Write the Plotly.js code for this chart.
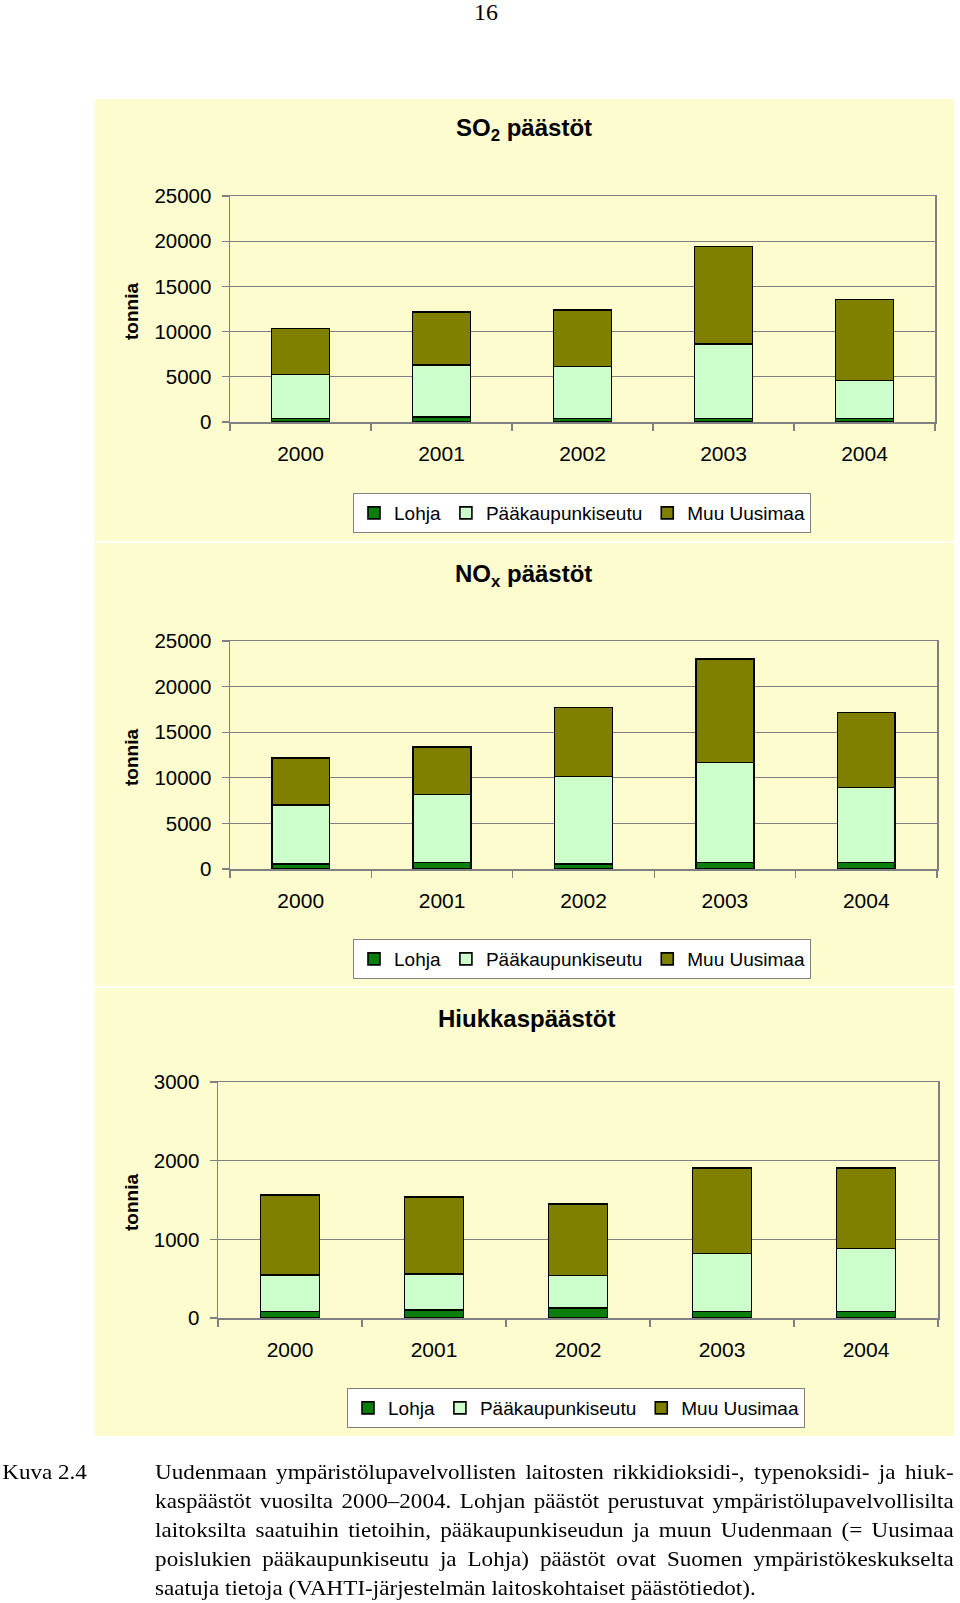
<!DOCTYPE html>
<html>
<head>
<meta charset="utf-8">
<script src="https://cdn.plot.ly/plotly-3.0.1.min.js"></script>
<style>
  body { margin: 0; background: #fff; }
  #chart { position: absolute; left: 0; top: 0; width: 960px; height: 1603px; }
  #caption { position: absolute; left: 0; top: 1458px; width: 870px;
    transform: scaleX(1.1); transform-origin: left top;
    font-family: 'Liberation Serif', 'Times New Roman', serif; font-size: 21px; line-height: 29px; color: #000; }
  #caption .lbl { position: absolute; left: 2px; top: 0; }
  #caption .txt { position: absolute; left: 141px; width: 726px; top: 0; }
  #caption .ln { text-align: justify; text-align-last: justify; }
  #caption .ln.last { text-align-last: left; white-space: nowrap; }
</style>
</head>
<body>
<div id="chart"></div>
<div id="caption">
  <div class="lbl">Kuva 2.4</div>
  <div class="txt">
    <div class="ln">Uudenmaan ympäristölupavelvollisten laitosten rikkidioksidi-, typenoksidi- ja hiuk-</div>
    <div class="ln">kaspäästöt vuosilta 2000–2004. Lohjan päästöt perustuvat ympäristölupavelvollisilta</div>
    <div class="ln">laitoksilta saatuihin tietoihin, pääkaupunkiseudun ja muun Uudenmaan (= Uusimaa</div>
    <div class="ln">poislukien pääkaupunkiseutu ja Lohja) päästöt ovat Suomen ympäristökeskukselta</div>
    <div class="ln last">saatuja tietoja (VAHTI-järjestelmän laitoskohtaiset päästötiedot).</div>
  </div>
</div>
<script>
// vuodet ja sarjat
const years = ['2000', '2001', '2002', '2003', '2004'];
const seriesNames = ['Lohja', 'Pääkaupunkiseutu', 'Muu Uusimaa'];
const seriesColors = ['#0a7d0a', '#ccffcc', '#808000'];

// SO2, tonnia
const so2Lohja = [400, 550, 400, 400, 400];
const so2Paak = [4850, 5750, 5750, 8200, 4200];
const so2Muu = [5100, 5900, 6250, 10800, 8950];

// NOx, tonnia
const noxLohja = [550, 700, 550, 700, 700];
const noxPaak = [6450, 7450, 9600, 11000, 8250];
const noxMuu = [5150, 5200, 7550, 11300, 8200];

// hiukkaset, tonnia
const pmLohja = [85, 100, 130, 85, 85];
const pmPaak = [460, 460, 410, 735, 800];
const pmMuu = [1020, 980, 910, 1090, 1020];

const W = 960, H = 1603;
const px = v => v / W;          // pixel x -> paper
const py = v => 1 - v / H;      // pixel y (from top) -> paper

const font = 'Liberation Sans, Arial, sans-serif';
const grey = '#808080';

const charts = [
  { title: 'SO<sub>2</sub> päästöt', series: [so2Lohja, so2Paak, so2Muu], ymax: 25000, dtick: 5000,
    plotX: [230, 935], plotY: [196, 422], titleY: 130, titleX: 524, legX: 582, legY: 493, box: [99, 541] },
  { title: 'NO<sub>x</sub> päästöt', series: [noxLohja, noxPaak, noxMuu], ymax: 25000, dtick: 5000,
    plotX: [230, 937], plotY: [641, 869], titleY: 575, titleX: 523, legX: 582, legY: 939, box: [543, 986] },
  { title: 'Hiukkaspäästöt', series: [pmLohja, pmPaak, pmMuu], ymax: 3000, dtick: 1000,
    plotX: [218, 938], plotY: [1082, 1318], titleY: 1018, titleX: 526, legX: 576, legY: 1388, box: [988, 1436] }
];

const data = [];
const layout = {
  width: W, height: H,
  margin: { l: 0, r: 0, t: 0, b: 0 },
  paper_bgcolor: '#ffffff',
  plot_bgcolor: '#ffffff',
  barmode: 'stack',
  bargap: 0.59,
  font: { family: font, size: 20, color: '#000' },
  showlegend: true,
  shapes: [],
  annotations: [
    { text: '16', x: px(486), y: py(12), xref: 'paper', yref: 'paper', showarrow: false,
      xanchor: 'center', yanchor: 'middle',
      font: { family: 'Liberation Serif, Times New Roman, serif', size: 24 } }
  ]
};

charts.forEach((c, i) => {
  const n = i === 0 ? '' : String(i + 1);
  const legName = 'legend' + n;

  c.series.forEach((vals, k) => {
    data.push({
      type: 'bar',
      name: seriesNames[k],
      x: years,
      y: vals,
      xaxis: 'x' + n,
      yaxis: 'y' + n,
      legend: legName,
      marker: { color: seriesColors[k], line: { color: '#000', width: 1.6 } },
      hoverinfo: 'skip'
    });
  });

  layout['xaxis' + n] = {
    domain: [px(c.plotX[0]), px(c.plotX[1])],
    anchor: 'y' + n,
    type: 'category',
    showline: true, linecolor: grey, linewidth: 1.5, mirror: true,
    ticks: 'outside', tickson: 'boundaries', ticklen: 7, tickcolor: grey, tickwidth: 1.3,
    ticklabelstandoff: 12,
    showgrid: false,
    tickfont: { size: 21 }
  };
  layout['yaxis' + n] = {
    domain: [py(c.plotY[1]), py(c.plotY[0])],
    anchor: 'x' + n,
    range: [0, c.ymax],
    dtick: c.dtick,
    tickformat: 'd',
    showline: true, linecolor: grey, linewidth: 1.5, mirror: true,
    ticks: 'outside', ticklen: 7, tickcolor: grey, tickwidth: 1.3,
    ticklabelstandoff: 6,
    showgrid: true, gridcolor: grey, gridwidth: 1.3,
    zeroline: false,
    tickfont: { size: 20.5 }
  };
  layout[legName] = {
    orientation: 'h',
    x: px(c.legX), xanchor: 'center',
    y: py(c.legY), yanchor: 'top',
    traceorder: 'normal',
    bgcolor: '#ffffff', bordercolor: grey, borderwidth: 1,
    font: { size: 19 }
  };

  // keltainen tausta
  layout.shapes.push({
    type: 'rect', xref: 'paper', yref: 'paper', layer: 'below',
    x0: px(95), x1: px(954), y0: py(c.box[1]), y1: py(c.box[0]),
    fillcolor: '#fdfccf', line: { width: 0 }
  });

  layout.annotations.push({
    text: '<b>' + c.title + '</b>', x: px(c.titleX), y: py(c.titleY),
    xanchor: 'center', yanchor: 'middle',
    xref: 'paper', yref: 'paper', showarrow: false, font: { size: 24 }
  });
  layout.annotations.push({
    text: '<b>tonnia</b>', textangle: -90,
    x: px(131), y: py((c.plotY[0] + c.plotY[1]) / 2 + 3),
    xanchor: 'center', yanchor: 'middle',
    xref: 'paper', yref: 'paper', showarrow: false, font: { size: 19 }
  });
});

Plotly.newPlot('chart', data, layout, { displayModeBar: false, staticPlot: true });
</script>
</body>
</html>
